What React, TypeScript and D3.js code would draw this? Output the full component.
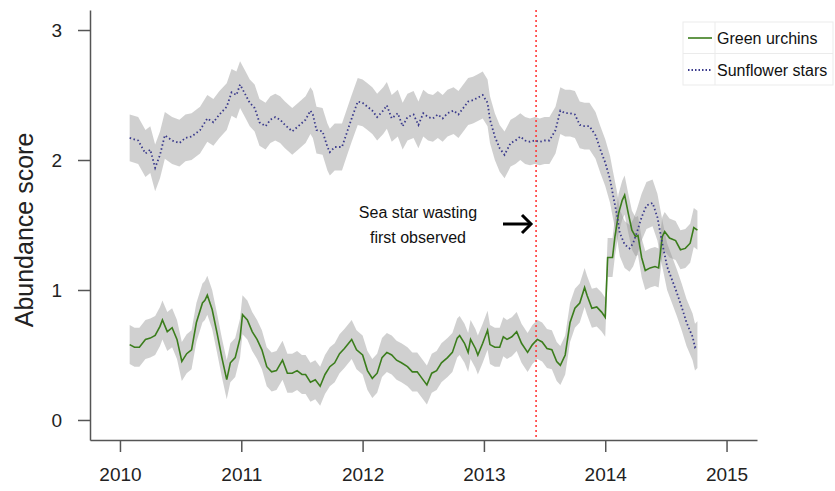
import React, { useRef, useEffect } from "react";
import { select, scaleLinear, axisBottom, axisLeft, line, area, format } from "d3";

// decimal years and abundance scores
const urchinYears = [
  2010.08, 2010.12, 2010.16, 2010.21, 2010.25, 2010.29, 2010.33, 2010.35, 2010.39, 2010.43,
  2010.47, 2010.51, 2010.55, 2010.59, 2010.63, 2010.68, 2010.7, 2010.72, 2010.76, 2010.8,
  2010.84, 2010.88, 2010.91, 2010.95, 2010.99, 2011.01, 2011.05, 2011.09, 2011.13, 2011.17,
  2011.21, 2011.25, 2011.29, 2011.34, 2011.38, 2011.42, 2011.46, 2011.5, 2011.53, 2011.57,
  2011.61, 2011.65, 2011.69, 2011.73, 2011.77, 2011.81, 2011.85, 2011.91, 2011.95, 2012.0,
  2012.04, 2012.08, 2012.12, 2012.16, 2012.2, 2012.24, 2012.28, 2012.32, 2012.37, 2012.41,
  2012.45, 2012.49, 2012.53, 2012.57, 2012.61, 2012.65, 2012.7, 2012.74, 2012.78, 2012.8,
  2012.84, 2012.87, 2012.89, 2012.93, 2012.95, 2012.99, 2013.03, 2013.05, 2013.09, 2013.13,
  2013.16, 2013.19, 2013.23, 2013.27, 2013.31, 2013.36, 2013.4, 2013.44, 2013.48, 2013.52,
  2013.56, 2013.6, 2013.63, 2013.67, 2013.71, 2013.75, 2013.79, 2013.83, 2013.85, 2013.89,
  2013.93, 2013.97, 2014.0, 2014.02, 2014.06, 2014.08, 2014.11, 2014.14, 2014.16, 2014.19,
  2014.22, 2014.25, 2014.27, 2014.3, 2014.33, 2014.37, 2014.41, 2014.44, 2014.47, 2014.49,
  2014.53, 2014.58, 2014.62, 2014.66, 2014.7, 2014.73, 2014.76,
];
const urchinScores = [
  0.58, 0.56, 0.56, 0.62, 0.63, 0.65, 0.72, 0.77, 0.68, 0.71,
  0.62, 0.45, 0.51, 0.54, 0.75, 0.9, 0.92, 0.96, 0.85, 0.67,
  0.48, 0.31, 0.44, 0.48, 0.63, 0.81, 0.77, 0.68, 0.62, 0.54,
  0.41, 0.37, 0.38, 0.46, 0.36, 0.36, 0.38, 0.35, 0.35, 0.29,
  0.31, 0.26, 0.35, 0.41, 0.44, 0.51, 0.55, 0.62, 0.54, 0.5,
  0.38, 0.32, 0.36, 0.48, 0.52, 0.5, 0.46, 0.44, 0.41, 0.37,
  0.37, 0.32, 0.27, 0.36, 0.38, 0.44, 0.48, 0.52, 0.63, 0.65,
  0.59, 0.52, 0.62, 0.55, 0.5, 0.59, 0.69, 0.58, 0.56, 0.56,
  0.64, 0.62, 0.64, 0.68, 0.59, 0.52, 0.58, 0.62, 0.6, 0.55,
  0.54, 0.45, 0.42, 0.5, 0.75, 0.86, 0.9, 1.02, 0.96, 0.86,
  0.87, 0.83, 0.79, 1.25, 1.25, 1.41, 1.59, 1.69, 1.73, 1.59,
  1.46, 1.41, 1.42, 1.25, 1.15, 1.17, 1.18, 1.17, 1.41, 1.45,
  1.4, 1.38, 1.31, 1.32, 1.36, 1.48, 1.46,
];

const starYears = [
  2010.08, 2010.15, 2010.21, 2010.25, 2010.29, 2010.33, 2010.37, 2010.43, 2010.49, 2010.54,
  2010.59, 2010.66, 2010.72, 2010.77, 2010.82, 2010.88, 2010.92, 2010.96, 2010.99, 2011.03,
  2011.07, 2011.11, 2011.15, 2011.2, 2011.24, 2011.28, 2011.32, 2011.36, 2011.42, 2011.47,
  2011.53, 2011.57, 2011.59, 2011.62, 2011.67, 2011.71, 2011.73, 2011.77, 2011.83, 2011.87,
  2011.91, 2011.96, 2012.0, 2012.04, 2012.08, 2012.12, 2012.17, 2012.2, 2012.24, 2012.29,
  2012.33, 2012.37, 2012.42, 2012.46, 2012.5, 2012.54, 2012.58, 2012.62, 2012.66, 2012.7,
  2012.75, 2012.79, 2012.83, 2012.87, 2012.91, 2012.95, 2012.99, 2013.03, 2013.05, 2013.09,
  2013.13, 2013.17, 2013.22, 2013.26, 2013.3, 2013.34, 2013.38, 2013.42, 2013.46, 2013.5,
  2013.54, 2013.59, 2013.63, 2013.67, 2013.71, 2013.75, 2013.79, 2013.83, 2013.87, 2013.92,
  2013.96, 2014.0, 2014.04, 2014.06, 2014.1, 2014.12, 2014.16, 2014.2, 2014.23, 2014.26,
  2014.3, 2014.34, 2014.39, 2014.43, 2014.47, 2014.51, 2014.55, 2014.59, 2014.63, 2014.67,
  2014.72, 2014.74, 2014.76,
];
const starScores = [
  2.17, 2.15, 2.05, 2.08, 1.94, 2.04, 2.19, 2.15, 2.13, 2.17,
  2.18, 2.23, 2.32, 2.29, 2.35, 2.41, 2.52, 2.5, 2.58, 2.51,
  2.44, 2.4, 2.29, 2.26, 2.31, 2.33, 2.31, 2.27, 2.22, 2.26,
  2.31, 2.38, 2.35, 2.23, 2.22, 2.1, 2.06, 2.1, 2.1, 2.21,
  2.32, 2.45, 2.44, 2.41, 2.38, 2.33, 2.38, 2.42, 2.32, 2.36,
  2.26, 2.33, 2.35, 2.27, 2.36, 2.33, 2.32, 2.35, 2.32, 2.36,
  2.38, 2.35, 2.4, 2.45, 2.46, 2.48, 2.5, 2.44, 2.31, 2.18,
  2.09, 2.04, 2.13, 2.15, 2.18, 2.15, 2.14, 2.15, 2.14, 2.15,
  2.15, 2.23, 2.38, 2.36, 2.36, 2.35, 2.27, 2.26, 2.26, 2.19,
  2.08, 1.98, 1.85, 1.75, 1.56, 1.44, 1.35, 1.32, 1.36, 1.44,
  1.56, 1.65, 1.67, 1.56, 1.36, 1.18, 1.08, 0.98, 0.87, 0.75,
  0.64, 0.56, 0.58,
];

// half-width of the grey confidence bands
const urchinBand = 0.15;
const starBand = 0.18;

const xTicks = [2010, 2011, 2012, 2013, 2014, 2015];
const yTicks = [0, 1, 2, 3];
const wastingDate = 2013.43;
const legendLabels = ["Green urchins", "Sunflower stars"];
const noteLines = ["Sea star wasting", "first observed"];

const width = 835;
const height = 491;
const font = "'Liberation Sans', Arial, Helvetica, sans-serif";

export default function App() {
  const svgRef = useRef<SVGSVGElement>(null);

  useEffect(() => {
    const svg = select(svgRef.current);
    svg.selectAll("*").remove();

    const x = scaleLinear().domain([2009.753, 2015.251]).range([90, 757]);
    const y = scaleLinear().domain([-0.154, 3.154]).range([440, 10]);

    const urchins = urchinYears.map((t, i) => ({ t, v: urchinScores[i] }));
    const stars = starYears.map((t, i) => ({ t, v: starScores[i] }));

    const band = (hw: number) =>
      area<{ t: number; v: number }>()
        .x((d) => x(d.t))
        .y0((d) => y(d.v - hw))
        .y1((d) => y(d.v + hw));
    const path = line<{ t: number; v: number }>()
      .x((d) => x(d.t))
      .y((d) => y(d.v));

    // bands
    svg.append("path").attr("d", band(starBand)(stars)).attr("fill", "#969696").attr("fill-opacity", 0.45);
    svg.append("path").attr("d", band(urchinBand)(urchins)).attr("fill", "#969696").attr("fill-opacity", 0.45);

    // wasting date
    svg
      .append("line")
      .attr("x1", x(wastingDate))
      .attr("x2", x(wastingDate))
      .attr("y1", 10)
      .attr("y2", 440)
      .attr("stroke", "#ff3b3b")
      .attr("stroke-width", 1.6)
      .attr("stroke-dasharray", "2,3");

    // series lines
    svg
      .append("path")
      .attr("d", path(urchins))
      .attr("fill", "none")
      .attr("stroke", "#3b7d1c")
      .attr("stroke-width", 1.6);
    svg
      .append("path")
      .attr("d", path(stars))
      .attr("fill", "none")
      .attr("stroke", "#3a3a8c")
      .attr("stroke-width", 1.8)
      .attr("stroke-dasharray", "1.5,2.5");

    // axes
    const xAxisG = svg
      .append("g")
      .attr("transform", "translate(0,440)")
      .call(axisBottom(x).tickValues(xTicks).tickFormat(format("d")).tickSize(12).tickSizeOuter(0).tickPadding(16));
    const yAxisG = svg
      .append("g")
      .attr("transform", "translate(90,0)")
      .call(axisLeft(y).tickValues(yTicks).tickFormat(format("d")).tickSize(12).tickSizeOuter(0).tickPadding(16));
    [xAxisG, yAxisG].forEach((g) => {
      g.selectAll("path, line").attr("stroke", "#555").attr("stroke-width", 1.5);
      g.selectAll("text").attr("fill", "#222").style("font-size", "19px").style("font-family", font);
    });

    // axis title
    svg
      .append("text")
      .attr("transform", "translate(33,230) rotate(-90)")
      .attr("text-anchor", "middle")
      .attr("fill", "#222")
      .style("font-size", "25px")
      .style("font-family", font)
      .text("Abundance score");

    // annotation
    noteLines.forEach((s, i) => {
      svg
        .append("text")
        .attr("x", 418)
        .attr("y", 218 + i * 25)
        .attr("text-anchor", "middle")
        .attr("fill", "#111")
        .style("font-size", "16px")
        .style("font-family", font)
        .text(s);
    });
    svg
      .append("line")
      .attr("x1", 503)
      .attr("x2", 531)
      .attr("y1", 224)
      .attr("y2", 224)
      .attr("stroke", "#000")
      .attr("stroke-width", 3);
    svg
      .append("path")
      .attr("d", "M522,215 L531,224 L522,233")
      .attr("fill", "none")
      .attr("stroke", "#000")
      .attr("stroke-width", 3);

    // legend
    const legend = svg.append("g");
    legend.append("rect").attr("x", 683).attr("y", 22).attr("width", 150).attr("height", 63)
      .attr("fill", "none").attr("stroke", "#ebebeb");
    legend.append("line").attr("x1", 715).attr("x2", 715).attr("y1", 22).attr("y2", 85).attr("stroke", "#ebebeb");
    legend.append("line").attr("x1", 683).attr("x2", 833).attr("y1", 53.5).attr("y2", 53.5).attr("stroke", "#ebebeb");
    const swatch = [
      { color: "#3b7d1c", dash: null, w: 1.6 },
      { color: "#3a3a8c", dash: "1.5,2", w: 1.8 },
    ];
    legendLabels.forEach((label, i) => {
      const cy = 38 + i * 32;
      legend
        .append("line")
        .attr("x1", 688)
        .attr("x2", 712)
        .attr("y1", cy)
        .attr("y2", cy)
        .attr("stroke", swatch[i].color)
        .attr("stroke-width", swatch[i].w)
        .attr("stroke-dasharray", swatch[i].dash);
      legend
        .append("text")
        .attr("x", 717)
        .attr("y", cy + 6)
        .attr("fill", "#111")
        .style("font-size", "16px")
        .style("font-family", font)
        .text(label);
    });
  }, []);

  return (
    <svg
      ref={svgRef}
      width={width}
      height={height}
      viewBox={`0 0 ${width} ${height}`}
      style={{ position: "absolute", left: 0, top: 0, background: "#fff" }}
    />
  );
}
